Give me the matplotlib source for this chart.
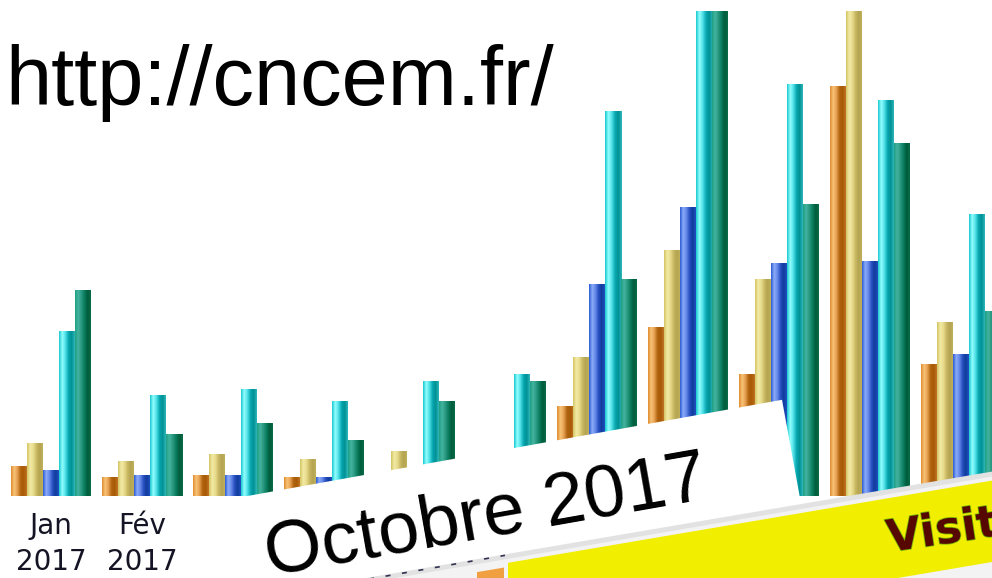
import numpy as np
import matplotlib
matplotlib.use("Agg")
import matplotlib.pyplot as plt
from matplotlib.colors import LinearSegmentedColormap
from matplotlib.patches import Polygon
import matplotlib.patheffects as pe

# ---- data (bar heights, arbitrary units) ----
months = ["Jan\n2017", "Fév\n2017", "Mar\n2017", "Avr\n2017", "Mai\n2017", "Jui\n2017",
          "Jul\n2017", "Aoû\n2017", "Sep\n2017", "Oct\n2017", "Nov\n2017"]
uniques = [30, 19, 21, 19, 12, 20, 90, 169, 122, 410, 132]
visits = [53, 35, 42, 37, 45, 38, 139, 246, 217, 485, 174]
pages = [26, 21, 21, 19, 8, 25, 212, 289, 233, 235, 142]
hits = [165, 101, 107, 95, 115, 122, 385, 485, 412, 396, 282]
bandwidth = [206, 62, 73, 56, 95, 115, 217, 485, 292, 353, 185]

series = [uniques, visits, pages, hits, bandwidth]
gradients = [
    ["#e08c30", "#f8c478", "#e6a050", "#b06410", "#a85a06", "#c07424"],
    ["#d4c462", "#f2eaa6", "#e8dc8c", "#c8b862", "#b4a452", "#c0b05a"],
    ["#2c5cd4", "#8cacf8", "#6488e8", "#2850c0", "#103c9c", "#2050c0"],
    ["#18c8d0", "#94ffff", "#50e0e8", "#08a8b0", "#009094", "#30b8bc"],
    ["#20a084", "#44b4a0", "#289880", "#0a7c5c", "#005c3c", "#0a6c48"],
]

W, H = 992, 578
fig = plt.figure(figsize=(W / 100, H / 100), dpi=100)
fig.patch.set_facecolor("white")

base = 496
ax = fig.add_axes([0, (H - base) / H, 1, base / H])
bw = 16 / 91
x = np.arange(len(months))
for j, (vals, stops) in enumerate(zip(series, gradients)):
    bars = ax.bar(x + (j - 2) * bw, vals, width=bw, color=stops[1], linewidth=0, zorder=2)
    cmap = LinearSegmentedColormap.from_list(f"g{j}", stops)
    grad = np.linspace(0, 1, 64)[None, :]
    for b in bars:
        x0, w, h = b.get_x(), b.get_width(), b.get_height()
        ax.imshow(grad, cmap=cmap, extent=(x0, x0 + w, 0, h), aspect="auto",
                  interpolation="bilinear", zorder=3)
ax.set_xlim(-51 / 91, (W - 51) / 91)
ax.set_ylim(0, base)
ax.set_xticks(x)
ax.set_xticklabels(months, fontsize=20, color="#141424", family="DejaVu Sans", linespacing=1.38)
ax.tick_params(axis="x", length=0, pad=11.5)
ax.set_yticks([])
for s in ax.spines.values():
    s.set_visible(False)

# ---- overlay (screenshot collage elements) ----
ov = fig.add_axes([0, 0, 1, 1], zorder=5)
ov.set_xlim(0, W)
ov.set_ylim(H, 0)
ov.axis("off")
ov.patch.set_alpha(0)

def yline(y0, x0, slope):
    return lambda xx: y0 - slope * (xx - x0)

# white card with "Octobre 2017"
top = yline(497, 242, 0.18)
ov.add_patch(Polygon([(195, top(195)), (782, top(782)), (800, 498), (800, 600), (195, 600)],
                     closed=True, facecolor="white", edgecolor="none", zorder=1))
ov.text(269, 576, "Octobre 2017", rotation=10, rotation_mode="anchor", ha="left",
        va="baseline", fontsize=53.2, family="Liberation Sans", color="black", zorder=2)

# grey band + yellow band
yg = yline(553, 513, 0.17)
ov.add_patch(Polygon([(300, yg(300)), (1000, yg(1000)), (1000, yg(1000) + 700), (300, yg(300) + 700)],
                     closed=True, facecolor="#e2e2e2", edgecolor="none", zorder=3))
ov.add_patch(Polygon([(300, yg(300) + 5), (1000, yg(1000) + 5), (1000, 700), (300, 700)],
                     closed=True, facecolor="#f3f3f3", edgecolor="none", zorder=3))
yy = lambda xx: yg(xx) + 9
yb = yline(562, 992, 0.17)
ov.add_patch(Polygon([(508, yy(508)), (1000, yy(1000)), (1000, yb(1000)), (508, yb(508))],
                     closed=True, facecolor="#f2ee00", edgecolor="none", zorder=4))
ov.add_patch(Polygon([(477, yg(477) + 13), (504, yg(504) + 13), (504, 600), (477, 600)],
                     closed=True, facecolor="#f0a040", edgecolor="none", zorder=4))
ov.plot([255, 505], [yg(255) + 2, yg(505) + 1], color="#303050", lw=1.2,
        dashes=(3, 7), zorder=4)
ov.text(889, 552, "Visit", rotation=8.5, rotation_mode="anchor", ha="left", va="baseline",
        fontsize=32, family="DejaVu Sans", weight="bold", color="#560800", zorder=5,
        path_effects=[pe.withStroke(linewidth=1.2, foreground="#7cb800")])

# URL
ov.text(5, 105, "http://cncem.fr/", ha="left", va="baseline", fontsize=59.8,
        family="Liberation Sans", color="black", zorder=6)

fig.savefig("out.png", dpi=100, facecolor="white")
